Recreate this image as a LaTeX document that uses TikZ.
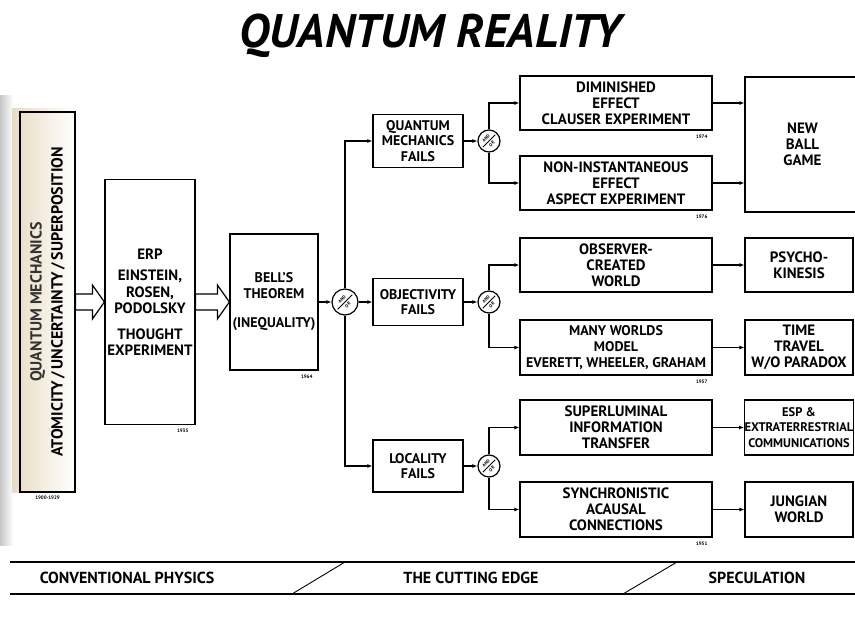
\documentclass[tikz,border=0pt]{standalone}
\usepackage{fontspec}
\setmainfont{PT Sans}
\usetikzlibrary{arrows.meta,calc}
\definecolor{barcream}{rgb}{0.91,0.86,0.76}
\definecolor{pageshade}{rgb}{0.78,0.78,0.78}

\tikzset{
  box/.style={draw, line width=1.2pt, rectangle, inner sep=0pt, align=center,
    font=\bfseries\fontsize{14}{15.5}\selectfont},
  widebox/.style={box, font=\bfseries\fontsize{15}{16}\selectfont},
  bigbox/.style={box, font=\bfseries\fontsize{15}{16.5}\selectfont},
  andor/.style={draw, line width=1.2pt, circle, fill=white, inner sep=0pt},
  andortext/.style={font=\bfseries\fontsize{4.5}{4.5}\selectfont, inner sep=0pt},
  flow/.style={line width=1.2pt, -{Latex[length=5pt,width=4pt]}},
  year/.style={font=\bfseries\fontsize{5}{5}\selectfont, inner sep=1pt},
  era/.style={font=\bfseries\fontsize{16}{16}\selectfont, inner sep=0pt},
}

% AND/OR junction: name, position, size
\newcommand{\andor}[3]{%
  \node[andor, minimum size=#3] (#1) at (#2) {};
  \draw[line width=0.8pt] ($(#1.south west)!0.12!(#1.north east)$) -- ($(#1.south west)!0.88!(#1.north east)$);
  \node[andortext, rotate=45] (#1-and) at ($(#1.center)+(-2.9,-2.9)$) {AND};
  \node[andortext, rotate=45] (#1-or) at ($(#1.center)+(2.9,2.9)$) {OR};
}

% Hollow arrow between two boxes
\newcommand{\hollowarrow}[2]{%
  \draw[line width=1.2pt, fill=white] ($(#1.east)+(0,-8)$) -- ($(#2.west)+(-12,-8)$)
    -- ($(#2.west)+(-12,-17)$) -- (#2.west) -- ($(#2.west)+(-12,17)$)
    -- ($(#2.west)+(-12,8)$) -- ($(#1.east)+(0,8)$) -- cycle;
}

\begin{document}
\begin{tikzpicture}[x=1pt, y=-1pt]
  \useasboundingbox (0,0) rectangle (855,635);

  % Title.
  \node[font=\bfseries\itshape\fontsize{47}{47}\selectfont] (title) at (430,36) {QUANTUM REALITY};

  % Page edge and the shaded bar.
  \shade[left color=pageshade, right color=white] (0,95) rectangle (13,545);
  \shade[left color=barcream, right color=white] (12,108) rectangle (75,492);
  \node[draw, line width=1.2pt, minimum width=55, minimum height=380, inner sep=0pt] (qmbar) at (47.5,302) {};
  \node[rotate=90, align=center, font=\bfseries\fontsize{16}{21}\selectfont] (qmtext) at (qmbar.center)
    {\textcolor{black!80}{QUANTUM MECHANICS}\\ATOMICITY\,/\,UNCERTAINTY\,/\,SUPERPOSITION};
  \node[year, anchor=north] (y1900) at ($(qmbar.south)+(0,2)$) {1900-1929};

  % Conventional physics.
  \node[bigbox, minimum width=90, minimum height=245] (erp) at (150,302)
    {ERP\\[5pt]EINSTEIN,\\ROSEN,\\PODOLSKY\\[9pt]THOUGHT\\EXPERIMENT};
  \node[year, anchor=north east] (y1935) at ($(erp.south east)+(-6,3)$) {1935};
  \node[box, minimum width=88, minimum height=136] (bell) at (274,302)
    {BELL'S\\THEOREM\\[14pt](INEQUALITY)};
  \node[year, anchor=north east] (y1964) at ($(bell.south east)+(-5,3)$) {1964};

  \hollowarrow{qmbar}{erp}
  \hollowarrow{erp}{bell}

  % The cutting edge.
  \andor{ao1}{345,302}{26}
  \node[box, minimum width=90, minimum height=53] (qmfail) at (418,141) {QUANTUM\\MECHANICS\\FAILS};
  \node[box, minimum width=90, minimum height=47] (objfail) at (418,302) {OBJECTIVITY\\FAILS};
  \node[box, minimum width=90, minimum height=52] (locfail) at (418,466) {LOCALITY\\FAILS};

  \draw[flow] (bell) -- (ao1);
  \draw[flow] (ao1) -- (objfail);
  \draw[flow] (ao1) |- (qmfail);
  \draw[flow] (ao1) |- (locfail);

  \andor{ao2}{489,141}{22}
  \andor{ao3}{489,302}{22}
  \andor{ao4}{489,466}{22}

  \node[widebox, minimum width=192, minimum height=54] (dimin) at (616,103)
    {DIMINISHED\\EFFECT\\CLAUSER EXPERIMENT};
  \node[widebox, minimum width=192, minimum height=54] (nonin) at (616,183)
    {NON-INSTANTANEOUS\\EFFECT\\ASPECT EXPERIMENT};
  \node[widebox, minimum width=192, minimum height=54] (observer) at (616,265)
    {OBSERVER-\\CREATED\\WORLD};
  \node[box, minimum width=192, minimum height=55, font=\bfseries\fontsize{14}{16}\selectfont] (many) at (616,347.5)
    {MANY WORLDS\\MODEL\\EVERETT, WHEELER, GRAHAM};
  \node[widebox, minimum width=192, minimum height=55] (superlum) at (616,427.5)
    {SUPERLUMINAL\\INFORMATION\\TRANSFER};
  \node[widebox, minimum width=192, minimum height=55] (synchro) at (616,509.5)
    {SYNCHRONISTIC\\ACAUSAL\\CONNECTIONS};

  \node[year, anchor=north east] (y1974) at ($(dimin.south east)+(-4,3)$) {1974};
  \node[year, anchor=north east] (y1976) at ($(nonin.south east)+(-4,3)$) {1976};
  \node[year, anchor=north east] (y1957) at ($(many.south east)+(-4,3)$) {1957};
  \node[year, anchor=north east] (y1951) at ($(synchro.south east)+(-4,3)$) {1951};

  \draw[flow] (qmfail) -- (ao2);
  \draw[flow] (objfail) -- (ao3);
  \draw[flow] (locfail) -- (ao4);
  \foreach \c/\u/\d in {ao2/dimin/nonin, ao3/observer/many, ao4/superlum/synchro} {
    \draw[flow] (\c) |- (\u);
    \draw[flow] (\c) |- (\d);
  }

  % Speculation.
  \node[widebox, minimum width=115, minimum height=135] (ballgame) at (802.5,144.5) {NEW\\BALL\\GAME};
  \node[widebox, minimum width=108, minimum height=54] (psycho) at (799,265) {PSYCHO-\\KINESIS};
  \node[widebox, minimum width=108, minimum height=55] (timetravel) at (799,347.5) {TIME\\TRAVEL\\W/O PARADOX};
  \node[box, minimum width=108, minimum height=55, font=\bfseries\fontsize{12.5}{15.5}\selectfont] (esp) at (799,427.5)
    {ESP \&\\EXTRATERRESTRIAL\\COMMUNICATIONS};
  \node[widebox, minimum width=108, minimum height=55] (jung) at (799,509.5) {JUNGIAN\\WORLD};

  \foreach \a/\b in {dimin/ballgame, nonin/ballgame, observer/psycho, many/timetravel, superlum/esp, synchro/jung} {
    \draw[flow] (\a.east) -- (\a.east -| \b.west);
  }

  % Era band.
  \draw[line width=1.2pt] (10,562) -- (855,562);
  \draw[line width=1.2pt] (10,594) -- (855,594);
  \draw[line width=0.9pt] (292,594) -- (345,562);
  \draw[line width=0.9pt] (623,594) -- (677,562);
  \node[era] (conv) at (127,578) {CONVENTIONAL PHYSICS};
  \node[era] (edge) at (471,578) {THE CUTTING EDGE};
  \node[era] (spec) at (757,578) {SPECULATION};
\end{tikzpicture}
\end{document}
